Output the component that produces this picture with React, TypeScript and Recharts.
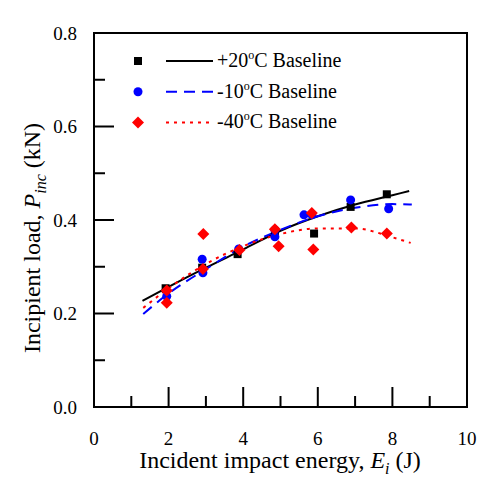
import { ComposedChart, XAxis, YAxis, Scatter, Line, ReferenceArea } from 'recharts'

const xTicks = [0, 1, 2, 3, 4, 5, 6, 7, 8, 9, 10]
const yTicks = [0, 0.1, 0.2, 0.3, 0.4, 0.5, 0.6, 0.7, 0.8]

// measured points
const plus20 = [
  { x: 1.92, y: 0.254 },
  { x: 2.9, y: 0.298 },
  { x: 3.85, y: 0.327 },
  { x: 4.85, y: 0.376 },
  { x: 5.9, y: 0.371 },
  { x: 6.88, y: 0.428 },
  { x: 7.85, y: 0.455 },
]
const minus10 = [
  { x: 1.95, y: 0.237 },
  { x: 2.9, y: 0.316 },
  { x: 2.92, y: 0.287 },
  { x: 3.88, y: 0.338 },
  { x: 4.85, y: 0.379 },
  { x: 4.85, y: 0.364 },
  { x: 5.63, y: 0.411 },
  { x: 5.84, y: 0.411 },
  { x: 6.88, y: 0.443 },
  { x: 7.9, y: 0.424 },
]
const minus40 = [
  { x: 1.95, y: 0.249 },
  { x: 1.95, y: 0.223 },
  { x: 2.93, y: 0.37 },
  { x: 2.92, y: 0.295 },
  { x: 3.9, y: 0.336 },
  { x: 4.85, y: 0.38 },
  { x: 4.95, y: 0.344 },
  { x: 5.84, y: 0.415 },
  { x: 5.88, y: 0.337 },
  { x: 6.9, y: 0.384 },
  { x: 7.85, y: 0.371 },
]

// fitted baselines
const fit20 = [
  { x: 1.3, y: 0.227 },
  { x: 2, y: 0.257 },
  { x: 3, y: 0.298 },
  { x: 4, y: 0.337 },
  { x: 5, y: 0.377 },
  { x: 6, y: 0.408 },
  { x: 7, y: 0.433 },
  { x: 8, y: 0.453 },
  { x: 8.45, y: 0.462 },
]
const fit10 = [
  { x: 1.32, y: 0.199 },
  { x: 2, y: 0.243 },
  { x: 3, y: 0.295 },
  { x: 4, y: 0.343 },
  { x: 5, y: 0.379 },
  { x: 6, y: 0.408 },
  { x: 7, y: 0.426 },
  { x: 8, y: 0.434 },
  { x: 8.52, y: 0.433 },
]
const fit40 = [
  { x: 1.32, y: 0.212 },
  { x: 2, y: 0.254 },
  { x: 3, y: 0.306 },
  { x: 4, y: 0.344 },
  { x: 5, y: 0.37 },
  { x: 6, y: 0.382 },
  { x: 7, y: 0.382 },
  { x: 8, y: 0.363 },
  { x: 8.49, y: 0.351 },
]

const legendItems = [
  { temp: '+20', color: '#000', marker: 'square', dash: undefined },
  { temp: '-10', color: '#0000ff', marker: 'circle', dash: '11 7' },
  { temp: '-40', color: '#ff0000', marker: 'diamond', dash: '3 5' },
]

const serif = { fontFamily: 'Liberation Serif' }

const Square = (p: any) => <rect x={p.cx - 4} y={p.cy - 4} width={8} height={8} fill="#000" />
const Circle = (p: any) => <circle cx={p.cx} cy={p.cy} r={4.5} fill="#0000ff" />
const Diamond = (p: any) => (
  <path d={`M${p.cx},${p.cy - 6}L${p.cx + 6},${p.cy}L${p.cx},${p.cy + 6}L${p.cx - 6},${p.cy}Z`} fill="#ff0000" />
)

const YTick = (props: any) => {
  const { x, y, payload } = props
  const v = payload.value
  const major = Math.round(v * 10) % 2 === 0
  return (
    <g>
      <line x1={x} x2={x + (major ? 20 : 11)} y1={y} y2={y} stroke="#000" strokeWidth={2} />
      {major && (
        <text x={x - 17} y={y} dy="0.35em" textAnchor="end" style={serif} fontSize={19} fill="#000">
          {v.toFixed(1)}
        </text>
      )}
    </g>
  )
}

const XTick = (props: any) => {
  const { x, y, payload } = props
  const v = payload.value
  const major = v % 2 === 0
  return (
    <g>
      <line x1={x} x2={x} y1={y} y2={y - (major ? 20 : 11)} stroke="#000" strokeWidth={2} />
      {major && (
        <text x={x} y={y + 38} textAnchor="middle" style={serif} fontSize={19} fill="#000">
          {v}
        </text>
      )}
    </g>
  )
}

function Marker({ kind, x, y }: { kind: string; x: number; y: number }) {
  if (kind === 'square') return <Square cx={x} cy={y} />
  if (kind === 'circle') return <Circle cx={x} cy={y} />
  return <Diamond cx={x} cy={y} />
}

export default function App() {
  return (
    <div style={{ position: 'absolute', left: 0, top: 0, width: 501, height: 486, background: '#fff' }}>
      <ComposedChart width={501} height={486} margin={{ top: 33, right: 34, bottom: 0, left: 0 }}>
        <XAxis
          type="number"
          dataKey="x"
          domain={[0, 10]}
          ticks={xTicks}
          interval={0}
          height={79}
          tickSize={0}
          tickMargin={0}
          tickLine={false}
          axisLine={false}
          tick={XTick}
        />
        <YAxis
          type="number"
          dataKey="y"
          domain={[0, 0.8]}
          ticks={yTicks}
          interval={0}
          width={94}
          tickSize={0}
          tickMargin={0}
          tickLine={false}
          axisLine={false}
          tick={YTick}
        />
        <ReferenceArea x1={0} x2={10} y1={0} y2={0.8} fill="none" stroke="#000" strokeWidth={2} ifOverflow="visible" />
        <Line data={fit20} dataKey="y" type="monotone" stroke="#000" strokeWidth={2} dot={false} isAnimationActive={false} />
        <Line data={fit10} dataKey="y" type="monotone" stroke="#0000ff" strokeWidth={2} strokeDasharray="11 7" dot={false} isAnimationActive={false} />
        <Line data={fit40} dataKey="y" type="monotone" stroke="#ff0000" strokeWidth={2} strokeDasharray="3 5" dot={false} isAnimationActive={false} />
        <Scatter data={plus20} dataKey="y" shape={Square} isAnimationActive={false} />
        <Scatter data={minus10} dataKey="y" shape={Circle} isAnimationActive={false} />
        <Scatter data={minus40} dataKey="y" shape={Diamond} isAnimationActive={false} />
      </ComposedChart>
      <svg width={501} height={486} style={{ position: 'absolute', left: 0, top: 0, pointerEvents: 'none' }}>
        {legendItems.map((it, i) => {
          const y = 61 + i * 30.7
          return (
            <g key={it.temp}>
              <Marker kind={it.marker} x={138} y={y} />
              <line x1={166} x2={213} y1={y} y2={y} stroke={it.color} strokeWidth={2} strokeDasharray={it.dash} />
              <text x={217} y={y + 6} style={serif} fontSize={20} fill="#000">
                {it.temp}
                <tspan fontSize={12} dy={-8}>o</tspan>
                <tspan dy={8}>C Baseline</tspan>
              </text>
            </g>
          )
        })}
        <text x={280} y={468} textAnchor="middle" style={serif} fontSize={24} fill="#000">
          Incident impact energy,{' '}
          <tspan fontStyle="italic">E</tspan>
          <tspan fontStyle="italic" fontSize={16} dy={6}>i</tspan>
          <tspan dy={-6}> (J)</tspan>
        </text>
        <text x={40} y={238} transform="rotate(-90 40 238)" textAnchor="middle" style={serif} fontSize={24} fill="#000">
          Incipient load,{' '}
          <tspan fontStyle="italic">P</tspan>
          <tspan fontStyle="italic" fontSize={16} dy={6}>inc</tspan>
          <tspan dy={-6}>{'  '}(kN)</tspan>
        </text>
      </svg>
    </div>
  )
}
